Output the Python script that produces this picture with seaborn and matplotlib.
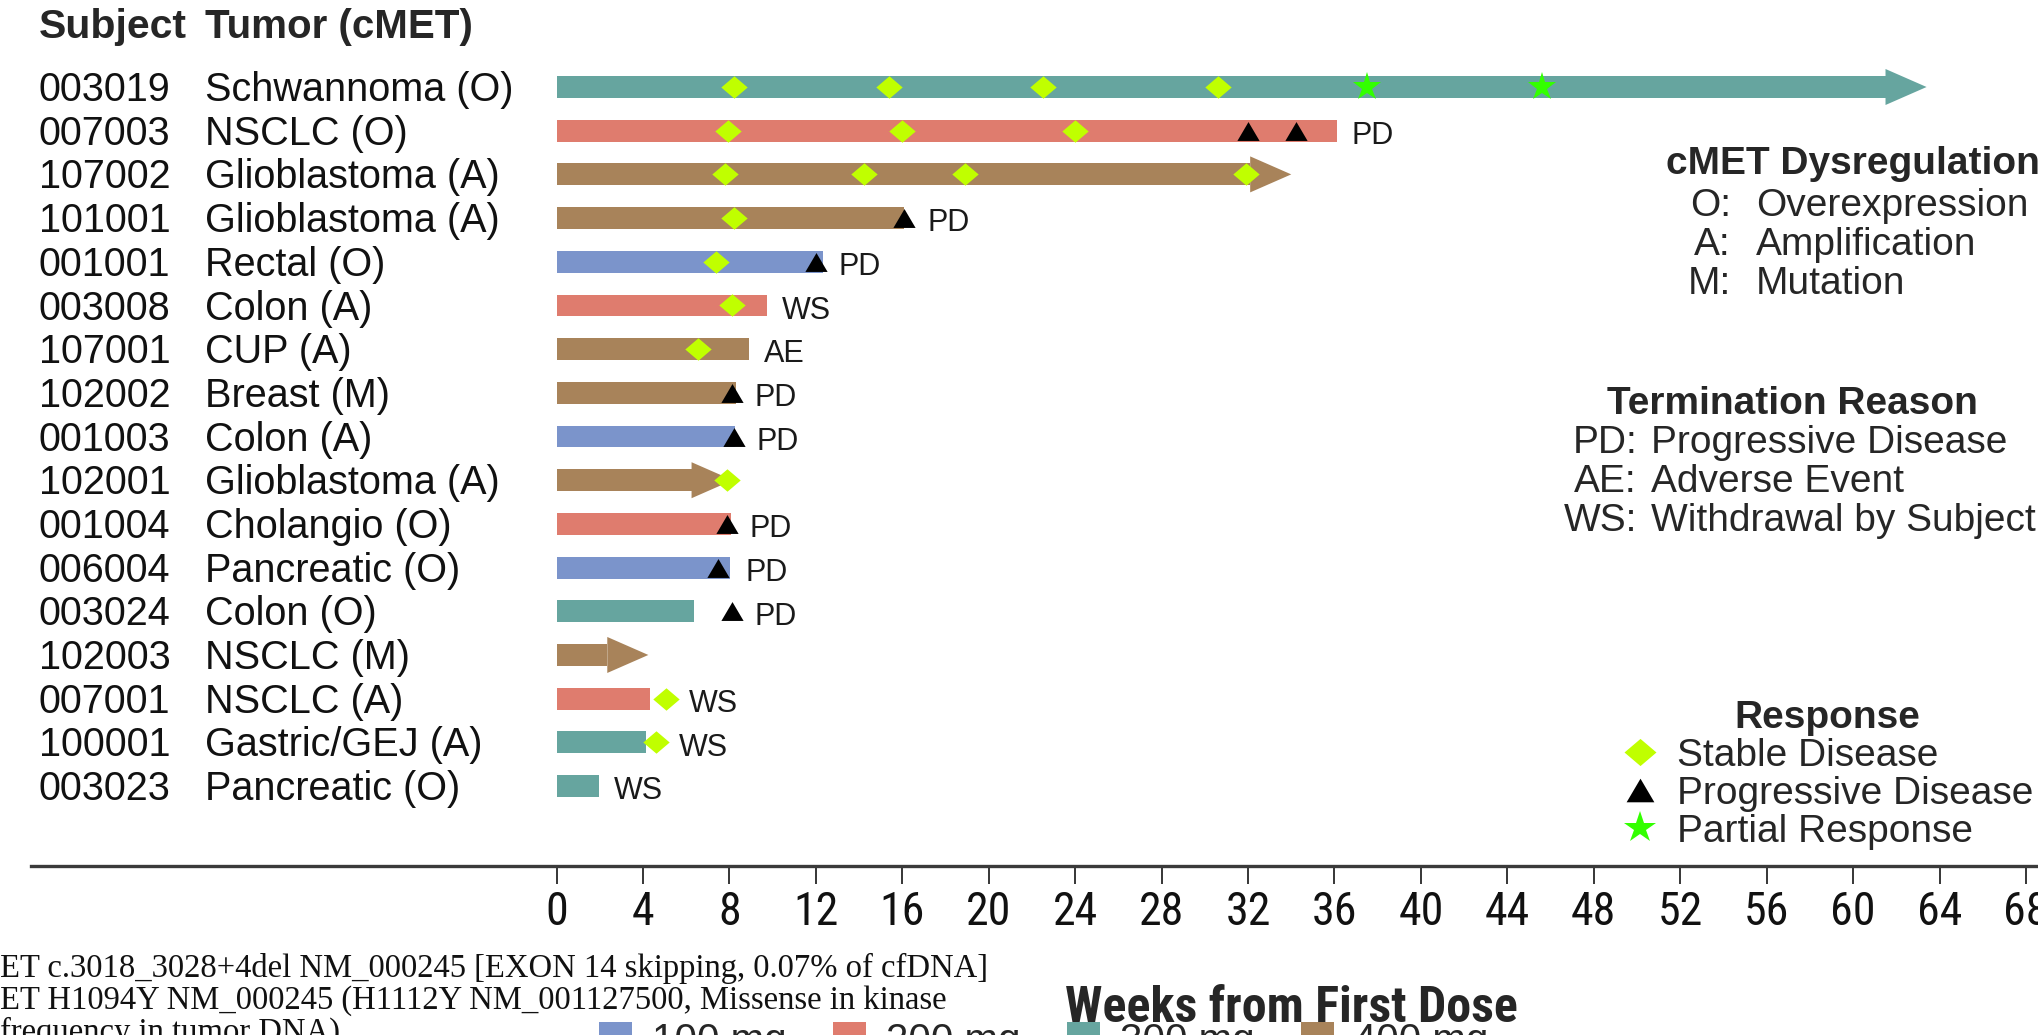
import matplotlib
matplotlib.use("Agg")
import matplotlib.pyplot as plt
import seaborn as sns
import pandas as pd
from matplotlib import font_manager
from matplotlib.font_manager import FontProperties
from matplotlib.patches import Polygon, Patch
from matplotlib.lines import Line2D
from matplotlib.transforms import blended_transform_factory

# ---------------- data ----------------
subjects = ["003019", "007003", "107002", "101001", "001001", "003008", "107001",
            "102002", "001003", "102001", "001004", "006004", "003024", "102003",
            "007001", "100001", "003023"]
tumors = ["Schwannoma (O)", "NSCLC (O)", "Glioblastoma (A)", "Glioblastoma (A)",
          "Rectal (O)", "Colon (A)", "CUP (A)", "Breast (M)", "Colon (A)",
          "Glioblastoma (A)", "Cholangio (O)", "Pancreatic (O)", "Colon (O)",
          "NSCLC (M)", "NSCLC (A)", "Gastric/GEJ (A)", "Pancreatic (O)"]
doses = ["300 mg", "200 mg", "400 mg", "400 mg", "100 mg", "200 mg", "400 mg",
         "400 mg", "100 mg", "400 mg", "200 mg", "100 mg", "300 mg", "400 mg",
         "200 mg", "300 mg", "300 mg"]
weeks_on_study = [63.4, 36.1, 34.0, 16.1, 12.33, 9.74, 8.9, 8.3, 8.26, 8.15,
                  8.07, 8.03, 6.36, 4.25, 4.34, 4.16, 1.97]
ongoing = [True, False, True, False, False, False, False, False, False, True,
           False, False, False, True, False, False, False]
termination = ["", "PD", "", "PD", "PD", "WS", "AE", "PD", "PD", "", "PD", "PD",
               "PD", "", "WS", "WS", "WS"]

sd_subject = ["003019", "003019", "003019", "003019", "007003", "007003", "007003",
              "107002", "107002", "107002", "107002", "101001", "001001", "003008",
              "107001", "102001", "007001", "100001"]
sd_week = [8.2, 15.4, 22.5, 30.6, 7.95, 16.0, 24.0, 7.8, 14.25, 18.9, 31.9, 8.2,
           7.36, 8.1, 6.55, 7.9, 5.07, 4.6]
pd_subject = ["007003", "007003", "101001", "001001", "102002", "001003", "001004",
              "006004", "003024"]
pd_week = [32.0, 34.2, 16.1, 11.99, 8.1, 8.2, 7.9, 7.47, 8.1]
pr_subject = ["003019", "003019"]
pr_week = [37.5, 45.6]

dose_levels = ["100 mg", "200 mg", "300 mg", "400 mg"]
dose_colors = ["#7B94CB", "#DF7C6E", "#66A59F", "#A8835A"]
x_ticks = list(range(0, 69, 4))

cmet_codes = ["O:", "A:", "M:"]
cmet_names = ["Overexpression", "Amplification", "Mutation"]
term_codes = ["PD:", "AE:", "WS:"]
term_names = ["Progressive Disease", "Adverse Event", "Withdrawal by Subject"]
response_names = ["Stable Disease", "Progressive Disease", "Partial Response"]
footnotes = ["ET c.3018_3028+4del NM_000245 [EXON 14 skipping, 0.07% of cfDNA]",
             "ET H1094Y NM_000245 (H1112Y NM_001127500, Missense in kinase",
             "frequency in tumor DNA)"]

# ---------------- style ----------------
sns.set_theme(style="white")
plt.rcParams["font.family"] = ["Liberation Sans", "DejaVu Sans"]


def pick_narrow():
    entries = font_manager.fontManager.ttflist
    names = {f.name for f in entries}
    for n in ["Liberation Sans Narrow", "Arial Narrow", "Nimbus Sans Narrow",
              "Roboto Condensed", "Open Sans Condensed", "Noto Sans Condensed",
              "DejaVu Sans Condensed"]:
        if n in names:
            return {"family": n}
    for pref in ["Noto Sans", "DejaVu Sans", "Open Sans", "Roboto", "Inter"]:
        for f in entries:
            if f.name == pref and str(f.stretch) in ("condensed", "semi-condensed",
                                                     "extra-condensed"):
                return {"family": pref, "stretch": str(f.stretch)}
    return None


narrow = pick_narrow()
if narrow is not None:
    tick_fp = FontProperties(size=33, **narrow)
    label_fp = FontProperties(size=36, weight="bold", **narrow)
else:
    tick_fp = FontProperties(family="Liberation Sans", size=27)
    label_fp = FontProperties(family="Liberation Sans", size=30, weight="bold")

SD_COLOR = "#C0FF00"
PR_COLOR = "#33FF00"
DIAMOND = [(-1, 0), (0, 0.85), (1, 0), (0, -0.85), (-1, 0)]
TRIANGLE = [(-1, -0.85), (1, -0.85), (0, 0.85), (-1, -0.85)]

W, H = 2038, 1035
fig = plt.figure(figsize=(W / 100, H / 100), dpi=100)
ax_top_px, ax_bot_px, ax_left_px = 40, 866, 31
ax = fig.add_axes([ax_left_px / W, 1 - ax_bot_px / H, 1 - ax_left_px / W,
                   (ax_bot_px - ax_top_px) / H])

head_len = 1.9
row_pitch = 43.69
bar_body = [w - head_len if o else w for w, o in zip(weeks_on_study, ongoing)]
df = pd.DataFrame({"subject": subjects, "body": bar_body, "dose": doses})

sns.barplot(data=df, y="subject", x="body", hue="dose", order=subjects,
            hue_order=dose_levels, palette=dict(zip(dose_levels, dose_colors)),
            dodge=False, width=0.5, saturation=1, orient="h", legend=False,
            linewidth=0, ax=ax)

row_of = {s: i for i, s in enumerate(subjects)}
color_of = dict(zip(dose_levels, dose_colors))

# arrow heads for ongoing subjects
half_h = 18 / row_pitch
for i, (w, o, d) in enumerate(zip(weeks_on_study, ongoing, doses)):
    if o:
        ax.add_patch(Polygon([(w - head_len, i - half_h), (w, i), (w - head_len, i + half_h)],
                             closed=True, facecolor=color_of[d], edgecolor="none", zorder=3))

# response markers
ax.plot(sd_week, [row_of[s] for s in sd_subject], ls="none", marker=DIAMOND,
        markersize=19, color=SD_COLOR, markeredgewidth=0, zorder=5)
ax.plot(pd_week, [row_of[s] for s in pd_subject], ls="none", marker=TRIANGLE,
        markersize=16, color="black", markeredgewidth=0, zorder=5)
ax.plot(pr_week, [row_of[s] for s in pr_subject], ls="none", marker="*",
        markersize=21, color=PR_COLOR, markeredgewidth=0, zorder=5)

# termination labels
last_marker = {}
for s, w in list(zip(sd_subject, sd_week)) + list(zip(pd_subject, pd_week)):
    last_marker[s] = max(last_marker.get(s, 0), w)
for i, (s, w, t) in enumerate(zip(subjects, weeks_on_study, termination)):
    if t:
        x = max(w, last_marker.get(s, 0) + 0.35) + 0.7
        ax.text(x, i + 0.12, t, ha="left", va="center", fontsize=22, color="#1a1a1a")

# axes cosmetics
x0_px, px_per_week = 556.5, 21.61
ax.set_xlim((ax_left_px - x0_px) / px_per_week, (W - x0_px) / px_per_week)
ax.set_ylim((ax_bot_px - 87) / row_pitch, (ax_top_px - 87) / row_pitch)
ax.set_xticks(x_ticks)
ax.set_xticklabels([str(t) for t in x_ticks], fontproperties=tick_fp)
ax.set_yticks([])
ax.set_ylabel("")
for side in ["top", "right", "left"]:
    ax.spines[side].set_visible(False)
ax.spines["bottom"].set_color("#3a3a3a")
ax.spines["bottom"].set_linewidth(2.4)
ax.tick_params(axis="x", bottom=True, direction="out", length=13, width=1.1,
               color="black", pad=4, labelcolor="#111111")
xl0, xl1 = ax.get_xlim()
ax.set_xlabel("Weeks from First Dose", fontproperties=label_fp, va="center")
ax.xaxis.set_label_coords((34 - xl0) / (xl1 - xl0),
                          (ax_bot_px - 1008) / (ax_bot_px - ax_top_px))

# row labels
tr = blended_transform_factory(fig.transFigure, ax.transData)
for i, (s, t) in enumerate(zip(subjects, tumors)):
    ax.text(39 / W, i + 0.07, s, transform=tr, ha="left", va="center", fontsize=28.5,
            color="#111111", clip_on=False)
    ax.text(205 / W, i + 0.07, t, transform=tr, ha="left", va="center", fontsize=28.5,
            color="#111111", clip_on=False)
fig.text(39 / W, 1 - 27 / H, "Subject", ha="left", va="center", fontsize=29.5,
         fontweight="bold")
fig.text(205 / W, 1 - 27 / H, "Tumor (cMET)", ha="left", va="center", fontsize=29,
         fontweight="bold")

# cMET Dysregulation block
fig.text(1666 / W, 1 - 164 / H, "cMET Dysregulation", ha="left", va="center",
         fontsize=28, fontweight="bold")
for k, (c, n) in enumerate(zip(cmet_codes, cmet_names)):
    y = 1 - (206 + 39 * k) / H
    fig.text(1731 / W, y, c, ha="right", va="center", fontsize=28)
    fig.text(1756 / W, y, n, ha="left", va="center", fontsize=28)

# Termination Reason block
fig.text(1607 / W, 1 - 404 / H, "Termination Reason", ha="left", va="center",
         fontsize=28, fontweight="bold")
for k, (c, n) in enumerate(zip(term_codes, term_names)):
    y = 1 - (443 + 39 * k) / H
    fig.text(1637 / W, y, c, ha="right", va="center", fontsize=28)
    fig.text(1651 / W, y, n, ha="left", va="center", fontsize=28)

# Response legend
resp_handles = [
    Line2D([], [], ls="none", marker=DIAMOND, markersize=23, color=SD_COLOR, markeredgewidth=0),
    Line2D([], [], ls="none", marker=TRIANGLE, markersize=20, color="black", markeredgewidth=0),
    Line2D([], [], ls="none", marker="*", markersize=24, color=PR_COLOR, markeredgewidth=0),
]
fig.legend(resp_handles, response_names, title="Response",
           title_fontproperties={"weight": "bold", "size": 28},
           fontsize=28, loc="upper left", frameon=False,
           bbox_to_anchor=(1621 / W, 1 - 700 / H), borderpad=0,
           borderaxespad=0, handlelength=1.0, handletextpad=0.43,
           labelspacing=0.05)

# dose legend (cut by bottom edge as in reference)
dose_handles = [Patch(facecolor=c, edgecolor="none") for c in dose_colors]
fig.legend(dose_handles, dose_levels, ncol=4, fontsize=29, loc="upper left",
           frameon=False, bbox_to_anchor=(599 / W, 1 - 1022 / H), borderpad=0,
           borderaxespad=0, handlelength=0.82, handleheight=0.82,
           handletextpad=0.5, columnspacing=1.15)

# footnotes (cut by left / bottom edges as in reference)
foot_y = [968, 1001, 1032]
for yy, line in zip(foot_y, footnotes):
    fig.text(0, 1 - yy / H, line, ha="left", va="center",
             fontsize=23.5, family=["Liberation Serif", "DejaVu Serif"], color="#111111")

fig.savefig("out.png", dpi=100)
